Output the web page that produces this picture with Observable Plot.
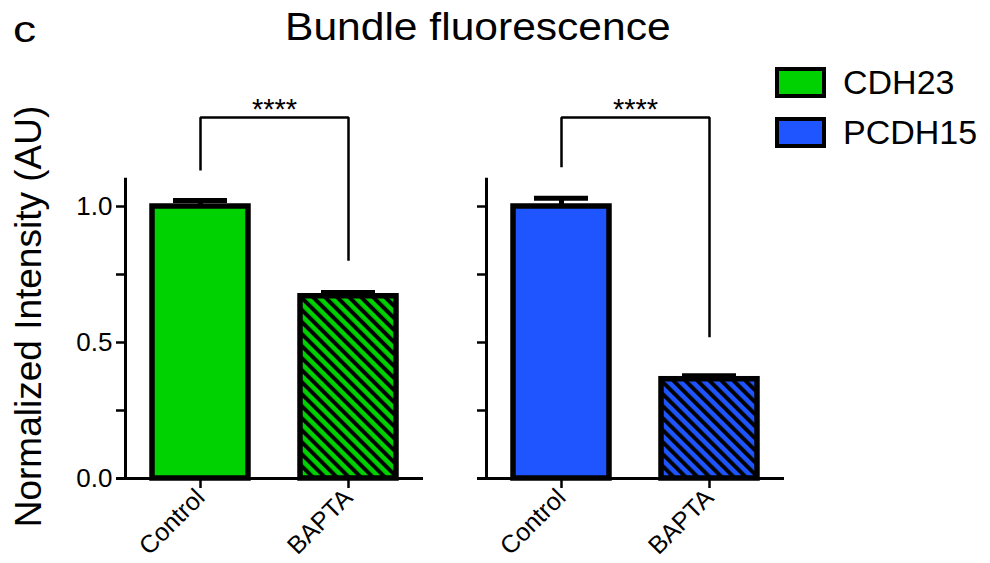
<!DOCTYPE html>
<html>
<head>
<meta charset="utf-8">
<script src="https://cdn.jsdelivr.net/npm/d3@7"></script>
<script src="https://cdn.jsdelivr.net/npm/@observablehq/plot@0.6"></script>
<style>
  html, body { margin: 0; padding: 0; background: #fff; }
  body { width: 990px; height: 563px; position: relative; overflow: hidden;
         font-family: "Liberation Sans", Arial, Helvetica, sans-serif; color: #000; }
  #header { position: relative; height: 60px; }
  .abs { position: absolute; white-space: nowrap; line-height: 1; transform-origin: 0 0; }
  #panel-letter { left: 13px; top: 10.7px; font-size: 37px; transform: scaleX(1.25); }
  #title { left: 285px; top: 8px; font-size: 38px; transform: scaleX(1.12); }
  .legend-item { position: absolute; left: 775px; height: 31px; }
  .swatch { position: absolute; left: 0; top: 0; width: 51px; height: 31px;
            box-sizing: border-box; border: 4px solid #000; }
  .legend-label { position: absolute; left: 68px; font-size: 34px; line-height: 1; white-space: nowrap; }
  #chart svg { display: block; }
</style>
</head>
<body>
<div id="header">
  <div id="panel-letter" class="abs">c</div>
  <div id="title" class="abs">Bundle fluorescence</div>
</div>
<div id="chart"></div>
<div id="legend"></div>
<script>
// ---- data ----
const panels = ["CDH23", "PCDH15"];
const conditions = ["Control", "BAPTA"];
const cdh23Mean = [1.0, 0.67];
const cdh23Sem = [0.022, 0.014];
const pcdh15Mean = [1.0, 0.365];
const pcdh15Sem = [0.03, 0.013];
const bracketLevel = [1.327, 1.327];
const bracketLeftEnd = [1.132, 1.144];
const bracketRightEnd = [0.801, 0.519];
const significance = ["****", "****"];
const yTicks = [0, 0.25, 0.5, 0.75, 1.0];
const yTickLabels = [0, 0.5, 1.0];
const yLabel = "Normalized Intensity (AU)";

// ---- styles ----
const panelColor = { CDH23: "#00d100", PCDH15: "#1f55fe" };

// ---- tables built from the arrays ----
const means = { CDH23: cdh23Mean, PCDH15: pcdh15Mean };
const sems = { CDH23: cdh23Sem, PCDH15: pcdh15Sem };
const bars = panels.flatMap(p => conditions.map((c, i) => ({ panel: p, condition: c, mean: means[p][i], sem: sems[p][i] })));
const brackets = panels.flatMap((p, i) => [
  { panel: p, condition: conditions[0], y: bracketLeftEnd[i] },
  { panel: p, condition: conditions[0], y: bracketLevel[i] },
  { panel: p, condition: conditions[1], y: bracketLevel[i] },
  { panel: p, condition: conditions[1], y: bracketRightEnd[i] }
]);
const stars = panels.map((p, i) => ({ panel: p, y: bracketLevel[i], text: significance[i] }));

const svg = Plot.plot({
  width: 990,
  height: 503,
  marginLeft: 124,
  marginRight: 205,
  marginTop: 118.8,
  marginBottom: 85,
  style: { fontFamily: '"Liberation Sans", Arial, Helvetica, sans-serif', fontSize: "22px", background: "white", color: "black", overflow: "visible" },
  fx: { domain: panels, axis: null, label: null, paddingInner: 0.174, paddingOuter: 0 },
  x: { domain: conditions, label: null, paddingInner: 0.351, paddingOuter: 0.177 },
  y: { domain: [0, 1.1], label: null },
  marks: [
    Plot.barY(bars, {
      fx: "panel", x: "condition", y: "mean",
      fill: d => d.condition === conditions[0] ? panelColor[d.panel] : `url(#hatch-${d.panel})`,
      stroke: "black", strokeWidth: 5.5
    }),
    Plot.ruleX(bars, { fx: "panel", x: "condition", y1: "mean", y2: d => d.mean + d.sem, stroke: "black", strokeWidth: 5 }),
    Plot.tickY(bars, { fx: "panel", x: "condition", y: d => d.mean + d.sem, stroke: "black", strokeWidth: 5, insetLeft: 21, insetRight: 21 }),
    Plot.frame({ anchor: "left", stroke: "black", strokeWidth: 3 }),
    Plot.ruleY([0], { stroke: "black", strokeWidth: 3, insetLeft: -9 }),
    Plot.axisY({ ticks: yTicks, tickSize: 9, stroke: "black", strokeWidth: 2.5, fill: "none", facetAnchor: null, label: null }),
    Plot.axisY({ ticks: yTickLabels, tickSize: 0, tickPadding: 13, tickFormat: d => d.toFixed(1), fontSize: 26, fill: "black", label: null }),
    Plot.axisX({ tickSize: 10, tickPadding: 5, tickRotate: -45, stroke: "black", strokeWidth: 2.5, fill: "black", fontSize: 25, label: null }),
    Plot.line(brackets, { fx: "panel", x: "condition", y: "y", stroke: "black", strokeWidth: 2.5, strokeLinejoin: "miter", strokeLinecap: "butt" }),
    Plot.text(stars, { fx: "panel", y: "y", text: "text", fontSize: 29, lineAnchor: "bottom", dy: 1, fill: "black" }),
    Plot.text([yLabel], { text: d => d, frameAnchor: "left", textAnchor: "middle", rotate: -90, fontSize: 37, dx: -96.5, dy: -12.4, lineAnchor: "middle", facetAnchor: "left", fill: "black" })
  ]
});

// hatch patterns for the BAPTA bars
const defs = d3.select(svg).insert("defs", ":first-child");
panels.forEach(p => {
  const pat = defs.append("pattern")
    .attr("id", `hatch-${p}`)
    .attr("patternUnits", "userSpaceOnUse")
    .attr("width", 8.5).attr("height", 8.5)
    .attr("patternTransform", "rotate(-45)");
  pat.append("rect").attr("width", 8.5).attr("height", 8.5).attr("fill", panelColor[p]);
  pat.append("rect").attr("width", 4).attr("height", 8.5).attr("fill", "black");
});
document.getElementById("chart").appendChild(svg);

// legend
const legend = document.getElementById("legend");
panels.forEach((p, i) => {
  const item = document.createElement("div");
  item.className = "legend-item";
  item.style.top = (67 + i * 50) + "px";
  const sw = document.createElement("div");
  sw.className = "swatch";
  sw.style.background = panelColor[p];
  const lab = document.createElement("div");
  lab.className = "legend-label";
  lab.style.top = "-1.8px";
  lab.textContent = p;
  item.appendChild(sw);
  item.appendChild(lab);
  legend.appendChild(item);
});
</script>
</body>
</html>
